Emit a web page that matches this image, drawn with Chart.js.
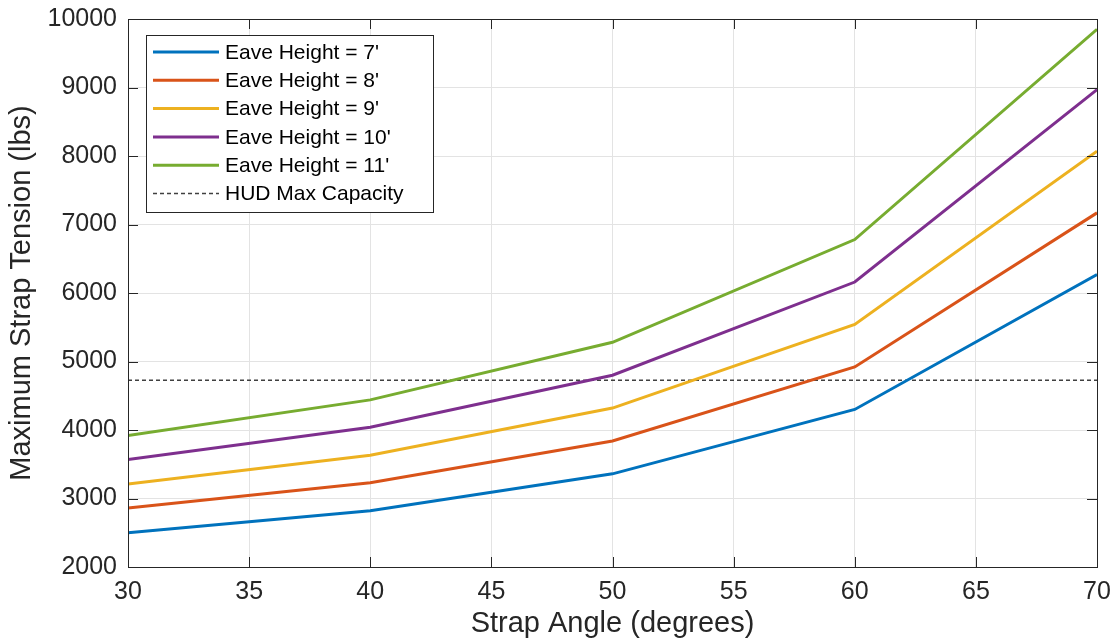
<!DOCTYPE html>
<html>
<head>
<meta charset="utf-8">
<script src="https://cdn.jsdelivr.net/npm/chart.js@4.4.1/dist/chart.umd.min.js"></script>
<style>
html,body{margin:0;padding:0;background:#fff;}
#wrap{width:1116px;height:643px;position:relative;}
</style>
</head>
<body>
<div id="wrap"><canvas id="c" width="1116" height="643"></canvas></div>
<script>
// ---- data ----
const angles = [30, 40, 50, 60, 70];
const eave7  = [2500, 2820, 3360, 4300, 6270];
const eave8  = [2860, 3230, 3840, 4920, 7170];
const eave9  = [3210, 3630, 4320, 5540, 8070];
const eave10 = [3570, 4040, 4800, 6160, 8970];
const eave11 = [3920, 4440, 5280, 6780, 9850];
const hudCapacity = 4725;
const seriesLabels = ["Eave Height = 7'", "Eave Height = 8'", "Eave Height = 9'", "Eave Height = 10'", "Eave Height = 11'", "HUD Max Capacity"];
const xTicks = [30, 35, 40, 45, 50, 55, 60, 65, 70];
const yTicks = [2000, 3000, 4000, 5000, 6000, 7000, 8000, 9000, 10000];

const colors = ['#0072BD', '#D95319', '#EDB120', '#7E2F8E', '#77AC30'];
const FONT = '"Liberation Sans", Arial, Helvetica, sans-serif';
const TXT = '#262626';

function pts(vals){ return angles.map((a,i)=>({x:a,y:vals[i]})); }
const allSeries = [eave7, eave8, eave9, eave10, eave11];
const datasets = allSeries.map((s,i)=>({
  label: seriesLabels[i], data: pts(s), borderColor: colors[i], backgroundColor: colors[i],
  borderWidth: 3, pointRadius: 0, tension: 0, fill: false
}));
datasets.push({
  label: seriesLabels[5],
  data: [{x:xTicks[0], y:hudCapacity},{x:xTicks[xTicks.length-1], y:hudCapacity}],
  borderColor: '#404040', borderWidth: 1.5, borderDash: [4,3], pointRadius: 0, fill: false
});

const frame = {
  id: 'frame',
  afterDatasetsDraw(chart){
    const {ctx, chartArea:a, scales} = chart;
    ctx.save();
    ctx.strokeStyle = TXT; ctx.lineWidth = 1;
    ctx.strokeRect(Math.round(a.left)+0.5, Math.round(a.top)+0.5, Math.round(a.right-a.left), Math.round(a.bottom-a.top));
    const L = 10;
    ctx.beginPath();
    xTicks.forEach(v=>{
      const x = Math.round(scales.x.getPixelForValue(v))+0.5;
      ctx.moveTo(x, a.bottom); ctx.lineTo(x, a.bottom-L);
      ctx.moveTo(x, a.top); ctx.lineTo(x, a.top+L);
    });
    yTicks.forEach(v=>{
      const y = Math.round(scales.y.getPixelForValue(v))+0.5;
      ctx.moveTo(a.left, y); ctx.lineTo(a.left+L, y);
      ctx.moveTo(a.right, y); ctx.lineTo(a.right-L, y);
    });
    ctx.stroke();

    // legend
    const bx = 146.5, by = 35.5, bw = 287, bh = 177;
    ctx.fillStyle = '#fff';
    ctx.fillRect(bx, by, bw, bh);
    ctx.strokeStyle = TXT; ctx.lineWidth = 1;
    ctx.strokeRect(bx, by, bw, bh);
    ctx.font = '21px ' + FONT;
    ctx.textBaseline = 'middle';
    ctx.textAlign = 'left';
    chart.data.datasets.forEach((ds,i)=>{
      const y = 52 + i*28.3;
      ctx.save();
      ctx.strokeStyle = ds.borderColor;
      ctx.lineWidth = ds.borderWidth;
      ctx.setLineDash(ds.borderDash || []);
      ctx.beginPath(); ctx.moveTo(153, y); ctx.lineTo(219, y); ctx.stroke();
      ctx.restore();
      ctx.fillStyle = '#000';
      ctx.fillText(ds.label, 225, y+1);
    });
    ctx.restore();
  }
};

new Chart(document.getElementById('c'), {
  type: 'line',
  data: { datasets },
  options: {
    responsive: false, animation: false,
    layout: { padding: { top: 19, right: 19, left: 0, bottom: 0 } },
    plugins: { legend: { display: false }, tooltip: { enabled: false } },
    scales: {
      x: {
        type: 'linear', min: 30, max: 70,
        afterBuildTicks(s){ s.ticks = xTicks.map(v=>({value:v})); },
        afterFit(s){ s.height = 76; s.paddingLeft = 0; s.paddingRight = 0; },
        grid: { color: '#e3e3e3', lineWidth: 1, drawTicks: false },
        border: { display: false },
        ticks: { color: TXT, font: { family: FONT, size: 25 }, padding: 10, maxRotation: 0, callback: v => String(v) },
        title: { display: true, text: 'Strap Angle (degrees)', color: TXT, font: { family: FONT, size: 29 }, padding: { top: 0, bottom: 2 } }
      },
      y: {
        min: 2000, max: 10000,
        afterBuildTicks(s){ s.ticks = yTicks.map(v=>({value:v})); },
        afterFit(s){ s.width = 128; s.paddingTop = 0; s.paddingBottom = 0; },
        grid: { color: '#e3e3e3', lineWidth: 1, drawTicks: false },
        border: { display: false },
        ticks: { color: TXT, font: { family: FONT, size: 25 }, padding: 11, callback: v => String(v) },
        title: { display: true, text: 'Maximum Strap Tension (lbs)', color: TXT, font: { family: FONT, size: 29 }, padding: { top: 5, bottom: 0 } }
      }
    }
  },
  plugins: [frame]
});
</script>
</body>
</html>
